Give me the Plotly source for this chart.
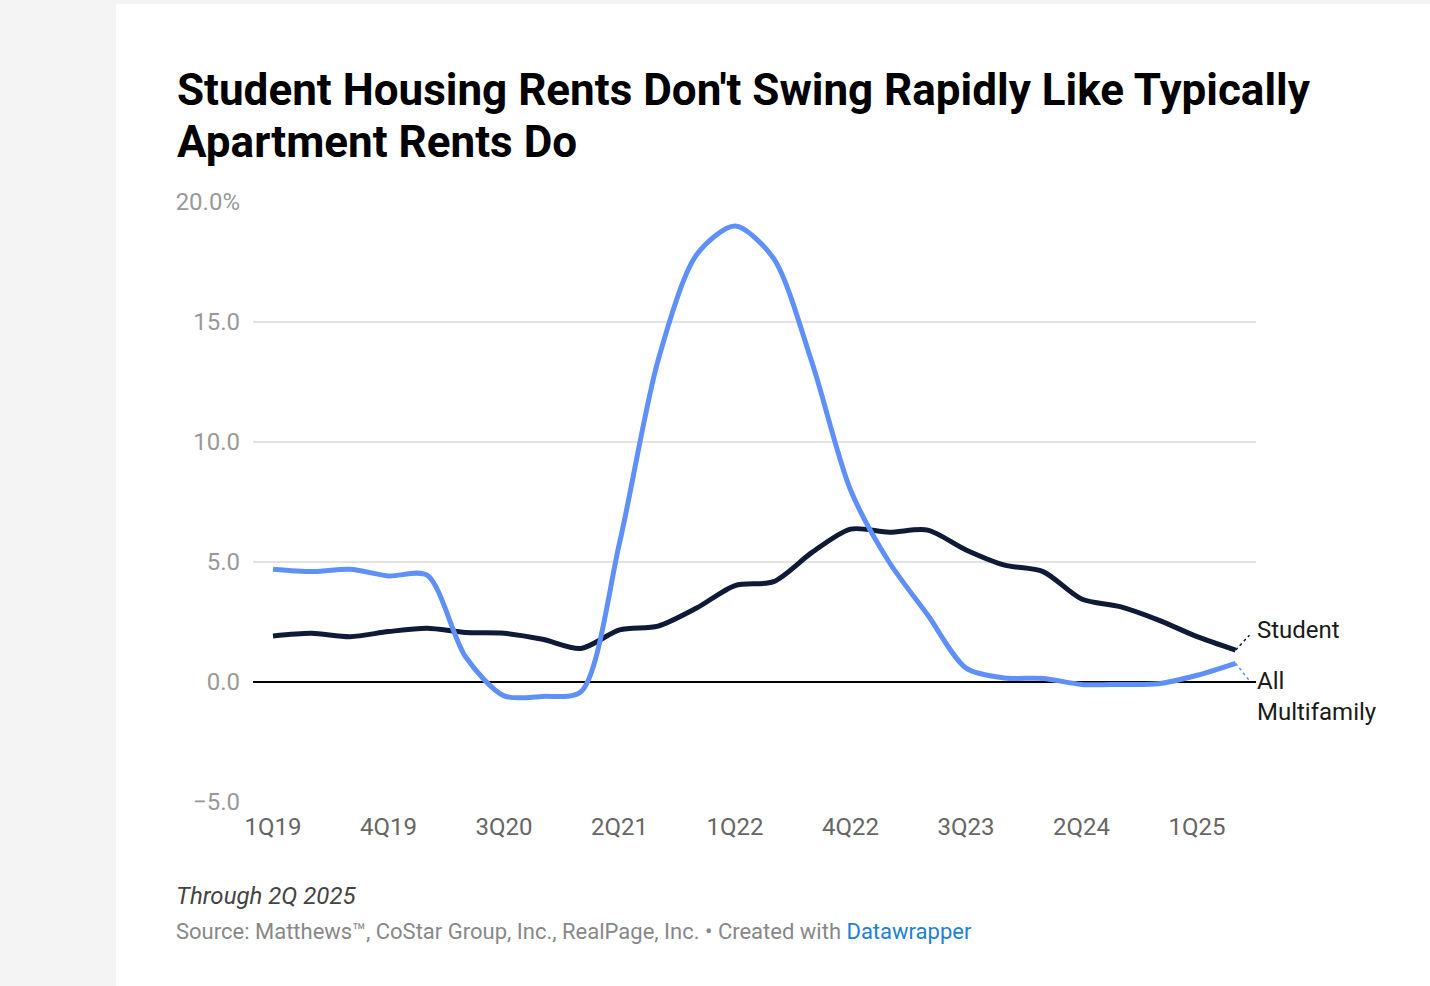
import plotly.graph_objects as go

quarters = ["1Q19", "2Q19", "3Q19", "4Q19", "1Q20", "2Q20", "3Q20", "4Q20",
            "1Q21", "2Q21", "3Q21", "4Q21", "1Q22", "2Q22", "3Q22", "4Q22",
            "1Q23", "2Q23", "3Q23", "4Q23", "1Q24", "2Q24", "3Q24", "4Q24",
            "1Q25", "2Q25"]

student = [1.92, 2.03, 1.89, 2.10, 2.24, 2.06, 2.03, 1.78, 1.40, 2.17,
           2.33, 3.08, 4.02, 4.18, 5.40, 6.37, 6.24, 6.33, 5.50, 4.87,
           4.60, 3.46, 3.14, 2.58, 1.89, 1.33]

all_multifamily = [4.70, 4.60, 4.70, 4.42, 4.45, 1.05, -0.58, -0.60, -0.40, 5.80,
                   13.40, 17.80, 19.00, 17.65, 13.30, 8.00, 5.00, 2.80, 0.58, 0.17,
                   0.15, -0.10, -0.10, -0.07, 0.28, 0.78]

x_tick_labels = ["1Q19", "4Q19", "3Q20", "2Q21", "1Q22", "4Q22", "3Q23", "2Q24", "1Q25"]
y_tick_values = [-5, 0, 5, 10, 15, 20]
y_tick_labels = ["\u22125.0", "0.0", "5.0", "10.0", "15.0", "20.0%"]

series_names = ["Student", "All<br>Multifamily"]
label_y = [2.17, -0.6]
connector_end = [1.95, 0.05]

title_lines = ["Student Housing Rents Don't Swing Rapidly Like Typically", "Apartment Rents Do"]

DARK = "#0e1a36"
BLUE = "#5f90f8"

idx = list(range(len(quarters)))
tick_idx = [quarters.index(q) for q in x_tick_labels]

fig = go.Figure()
fig.add_trace(go.Scatter(x=idx, y=student, mode="lines",
                         line=dict(color=DARK, width=5, shape="spline", smoothing=0.8),
                         hoverinfo="skip", showlegend=False))
fig.add_trace(go.Scatter(x=idx, y=all_multifamily, mode="lines",
                         line=dict(color=BLUE, width=5, shape="spline", smoothing=0.8),
                         hoverinfo="skip", showlegend=False))

last = idx[-1]
for vals, col, yend in [(student, DARK, connector_end[0]), (all_multifamily, BLUE, connector_end[1])]:
    fig.add_trace(go.Scatter(x=[last, last + 0.36], y=[vals[-1], yend], mode="lines",
                             line=dict(color=col, width=1.5, dash="dot"),
                             hoverinfo="skip", showlegend=False, cliponaxis=False))

W, H = 1430, 986
L, R, T, B = 253, 174, 202, 184
pw = W - L - R
ph = H - T - B

def px_x(px):
    return (px - L) / pw

def px_y(py):
    return 1 - (py - T) / ph

# background card
fig.add_shape(type="rect", xref="paper", yref="paper",
              x0=px_x(116), x1=px_x(W + 5), y0=px_y(H + 5), y1=px_y(4),
              fillcolor="white", line=dict(width=0), layer="below")

# title lines
for line, cy in zip(title_lines, [90, 142]):
    fig.add_annotation(x=px_x(175), y=px_y(cy), xref="paper", yref="paper",
                       text="<b>" + line + "</b>", showarrow=False,
                       xanchor="left", yanchor="middle",
                       font=dict(family="Roboto", size=44, color="#000000"))

for name, yv in zip(series_names, label_y):
    fig.add_annotation(x=1, xref="paper", y=yv, yref="y", text=name, showarrow=False,
                       xanchor="left", yanchor="middle", align="left", xshift=-1,
                       font=dict(family="Roboto", size=24, color="#1a1a1a"))

fig.add_annotation(x=px_x(174), y=px_y(896), xref="paper", yref="paper",
                   text="<i>Through 2Q 2025</i>", showarrow=False, xanchor="left", yanchor="middle",
                   font=dict(family="Roboto", size=24, color="#444444"))
fig.add_annotation(x=px_x(174), y=px_y(932), xref="paper", yref="paper",
                   text="Source: Matthews\u2122, CoStar Group, Inc., RealPage, Inc. \u2022 Created with "
                        "<span style='color:#1d81d6'>Datawrapper</span>",
                   showarrow=False, xanchor="left", yanchor="middle",
                   font=dict(family="Roboto", size=22, color="#888888"))

fig.update_layout(
    width=W, height=H,
    margin=dict(l=L, r=R, t=T, b=B),
    paper_bgcolor="#f4f4f4",
    plot_bgcolor="white",
    xaxis=dict(range=[-0.52, 25.53], tickvals=tick_idx, ticktext=x_tick_labels,
               showgrid=False, zeroline=False, showline=False, ticks="",
               tickfont=dict(family="Roboto", size=24, color="#666666"),
               ticklabelstandoff=8),
    yaxis=dict(range=[-5, 20], tickvals=y_tick_values, ticktext=y_tick_labels,
               showgrid=True, gridcolor="#e3e3e3", gridwidth=1.5,
               zeroline=True, zerolinecolor="#000000", zerolinewidth=2,
               showline=False, ticks="",
               tickfont=dict(family="Roboto", size=24, color="#999999"),
               ticklabelstandoff=12),
    font=dict(family="Roboto"),
)

fig.write_html("out.html", config={"displayModeBar": False},
               post_script="document.body.style.margin='0';document.body.style.background='#f4f4f4';")
